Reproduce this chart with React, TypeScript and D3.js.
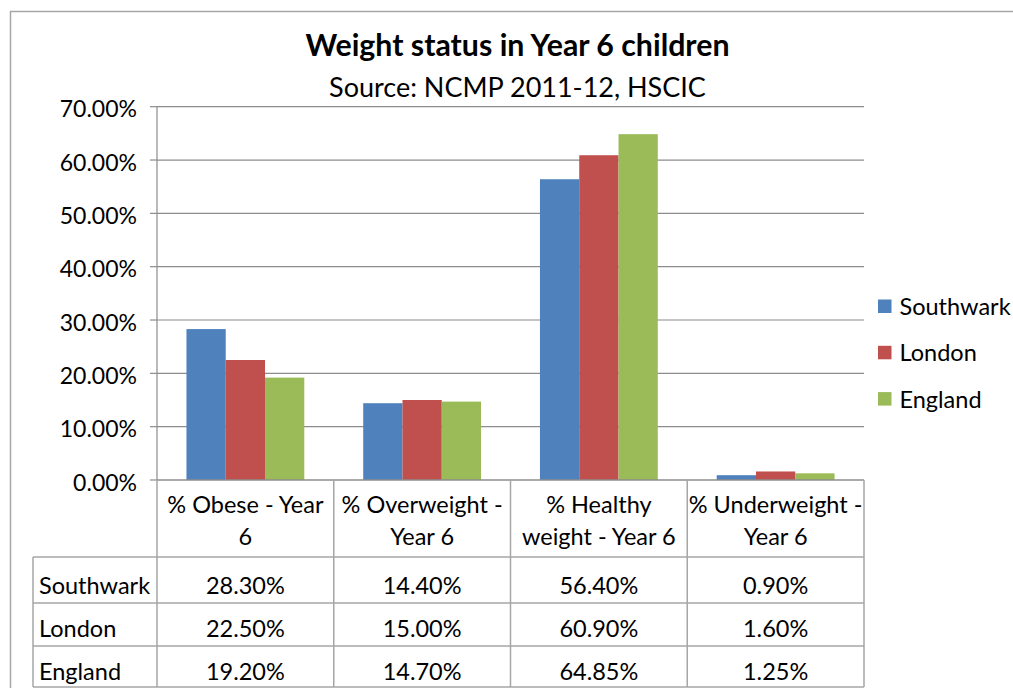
import React from "react";
import * as d3 from "d3";

// Weight status of Year 6 children, NCMP 2011-12 (HSCIC)
const categories = [
  "% Obese - Year 6",
  "% Overweight - Year 6",
  "% Healthy weight - Year 6",
  "% Underweight - Year 6",
];
const categoryLines = [
  ["% Obese - Year", "6"],
  ["% Overweight -", "Year 6"],
  ["% Healthy", "weight - Year 6"],
  ["% Underweight -", "Year 6"],
];
const seriesNames = ["Southwark", "London", "England"];
const southwark = [0.283, 0.144, 0.564, 0.009];
const london = [0.225, 0.15, 0.609, 0.016];
const england = [0.192, 0.147, 0.6485, 0.0125];
const seriesValues = [southwark, london, england];
const seriesColors = ["#4F81BD", "#C0504D", "#9BBB59"];
const yTicks = [0, 0.1, 0.2, 0.3, 0.4, 0.5, 0.6, 0.7];

const W = 1013;
const H = 688;
const FONT = "Lato, 'Noto Sans', sans-serif";
const plot = { left: 157, right: 864, top: 106.7, bottom: 480 };
const tableLeft = 33;
const rowLines = [557, 603, 646, 687];
const rowBaselines = [594, 637, 679.5];

const pct = d3.format(".2%");

export default function App() {
  const x0 = d3.scaleBand<string>().domain(categories).range([plot.left, plot.right]).padding(0);
  const x1 = d3
    .scaleBand<string>()
    .domain(seriesNames)
    .range([0, x0.bandwidth()])
    .paddingInner(0)
    .paddingOuter(0.75);
  const y = d3.scaleLinear().domain([0, 0.7]).range([plot.bottom, plot.top]);

  const lineColor = "#8c8c8c";
  const tableColor = "#a6a6a6";
  const fs = 23.5;

  return (
    <svg
      width={W}
      height={H}
      style={{ position: "absolute", left: 0, top: 0, background: "#fff" }}
      fontFamily={FONT}
    >
      <rect x={0} y={0} width={W} height={H} fill="#fff" />
      {/* chart frame */}
      <rect x={10.5} y={11.5} width={W + 20} height={H + 20} fill="none" stroke="#a6a6a6" strokeWidth={1.5} />

      {/* title */}
      <text x={517.5} y={55.5} textAnchor="middle" fontSize={30.3} fontWeight={700} fill="#000">
        Weight status in Year 6 children
      </text>
      <text x={517.5} y={96.5} textAnchor="middle" fontSize={27} fill="#000">
        Source: NCMP 2011-12, HSCIC
      </text>

      {/* gridlines and y axis */}
      {yTicks.map((t) => (
        <g key={t}>
          {t > 0 && (
            <line x1={plot.left} x2={plot.right} y1={y(t)} y2={y(t)} stroke={lineColor} strokeWidth={1.2} />
          )}
          <line x1={plot.left - 7} x2={plot.left} y1={y(t)} y2={y(t)} stroke={lineColor} strokeWidth={1.2} />
          <text x={137} y={y(t) + 10.5} textAnchor="end" fontSize={23} fill="#000">
            {pct(t)}
          </text>
        </g>
      ))}
      <line x1={plot.left} x2={plot.left} y1={plot.top} y2={plot.bottom} stroke={lineColor} strokeWidth={1.2} />

      {/* bars */}
      {categories.map((c, ci) => (
        <g key={c} transform={`translate(${x0(c)},0)`}>
          {seriesNames.map((s, si) => {
            const v = seriesValues[si][ci];
            return (
              <rect
                key={s}
                x={x1(s)}
                y={y(v)}
                width={x1.bandwidth()}
                height={y(0) - y(v)}
                fill={seriesColors[si]}
              />
            );
          })}
        </g>
      ))}

      {/* data table */}
      <g stroke={tableColor} strokeWidth={1.5}>
        <line x1={plot.left} x2={plot.right} y1={plot.bottom} y2={plot.bottom} stroke={lineColor} />
        {rowLines.map((ry) => (
          <line key={ry} x1={tableLeft} x2={plot.right} y1={ry} y2={ry} />
        ))}
        <line x1={tableLeft} x2={tableLeft} y1={rowLines[0]} y2={rowLines[rowLines.length - 1]} />
        {categories.map((c) => (
          <line key={c} x1={x0(c)} x2={x0(c)} y1={plot.bottom} y2={rowLines[rowLines.length - 1]} />
        ))}
        <line x1={plot.right} x2={plot.right} y1={plot.bottom} y2={rowLines[rowLines.length - 1]} />
      </g>
      {categories.map((c, ci) => (
        <g key={c}>
          {categoryLines[ci].map((ln, li) => (
            <text
              key={li}
              x={(x0(c) as number) + x0.bandwidth() / 2}
              y={512.5 + li * 32.5}
              textAnchor="middle"
              fontSize={fs}
              fill="#000"
            >
              {ln}
            </text>
          ))}
        </g>
      ))}
      {seriesNames.map((s, si) => (
        <g key={s}>
          <text x={39} y={rowBaselines[si]} fontSize={fs} fill="#000">
            {s}
          </text>
          {categories.map((c, ci) => (
            <text
              key={c}
              x={(x0(c) as number) + x0.bandwidth() / 2}
              y={rowBaselines[si]}
              textAnchor="middle"
              fontSize={fs}
              fill="#000"
            >
              {pct(seriesValues[si][ci])}
            </text>
          ))}
        </g>
      ))}

      {/* legend */}
      {seriesNames.map((s, si) => (
        <g key={s} transform={`translate(878,${299.5 + si * 46.3})`}>
          <rect x={0} y={0} width={13.5} height={13.5} fill={seriesColors[si]} />
          <text x={21.5} y={15.5} fontSize={fs} fill="#000">
            {s}
          </text>
        </g>
      ))}
    </svg>
  );
}
